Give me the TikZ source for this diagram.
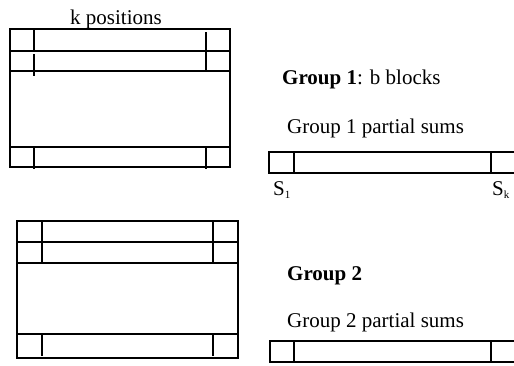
\documentclass[tikz,border=0pt]{standalone}
\usepackage{fontspec}
\setmainfont{Liberation Serif}
\begin{document}
\begin{tikzpicture}[x=1pt,y=-1pt,
  ln/.style={line width=1.7pt},
  lbl/.style={anchor=base west,inner sep=0pt,font=\fontsize{21}{25}\selectfont}]
\useasboundingbox (0,0) rectangle (514,365);
% top block
\draw[ln] (10,29) rectangle (230,167);
\draw[ln] (10,51) -- (230,51);
\draw[ln] (10,71) -- (230,71);
\draw[ln] (10,147) -- (230,147);
\draw[ln] (34,29) -- (34,51);
\draw[ln] (34,54) -- (34,76);
\draw[ln] (206,32) -- (206,71);
\draw[ln] (34,147) -- (34,169);
\draw[ln] (206,147) -- (206,169);
\node[lbl] (kpos) at (70,24) {k positions};
% bottom block
\draw[ln] (17,221) rectangle (238,358);
\draw[ln] (17,242) -- (238,242);
\draw[ln] (17,263) -- (238,263);
\draw[ln] (17,334) -- (238,334);
\draw[ln] (42,221) -- (42,263);
\draw[ln] (213,221) -- (213,263);
\draw[ln] (42,334) -- (42,356);
\draw[ln] (213,334) -- (213,356);
% bar 1
\draw[ln] (520,152) -- (269,152) -- (269,173) -- (520,173);
\draw[ln] (294,152) -- (294,173);
\draw[ln] (491,152) -- (491,173);
% bar 2
\draw[ln] (520,341) -- (270,341) -- (270,362) -- (520,362);
\draw[ln] (294,341) -- (294,362);
\draw[ln] (491,341) -- (491,362);
% labels
\node[lbl] (g1) at (282,84) {\textbf{Group 1}: b blocks};
\node[lbl] (g1s) at (287,133) {Group 1 partial sums};
\node[lbl] (s1) at (273,195) {S\textsubscript{\fontsize{11}{12}\selectfont 1}};
\node[lbl] (sk) at (492,195) {S\textsubscript{\fontsize{11}{12}\selectfont k}};
\node[lbl] (g2) at (287,280) {\textbf{Group 2}};
\node[lbl] (g2s) at (287,327) {Group 2 partial sums};
\end{tikzpicture}
\end{document}
